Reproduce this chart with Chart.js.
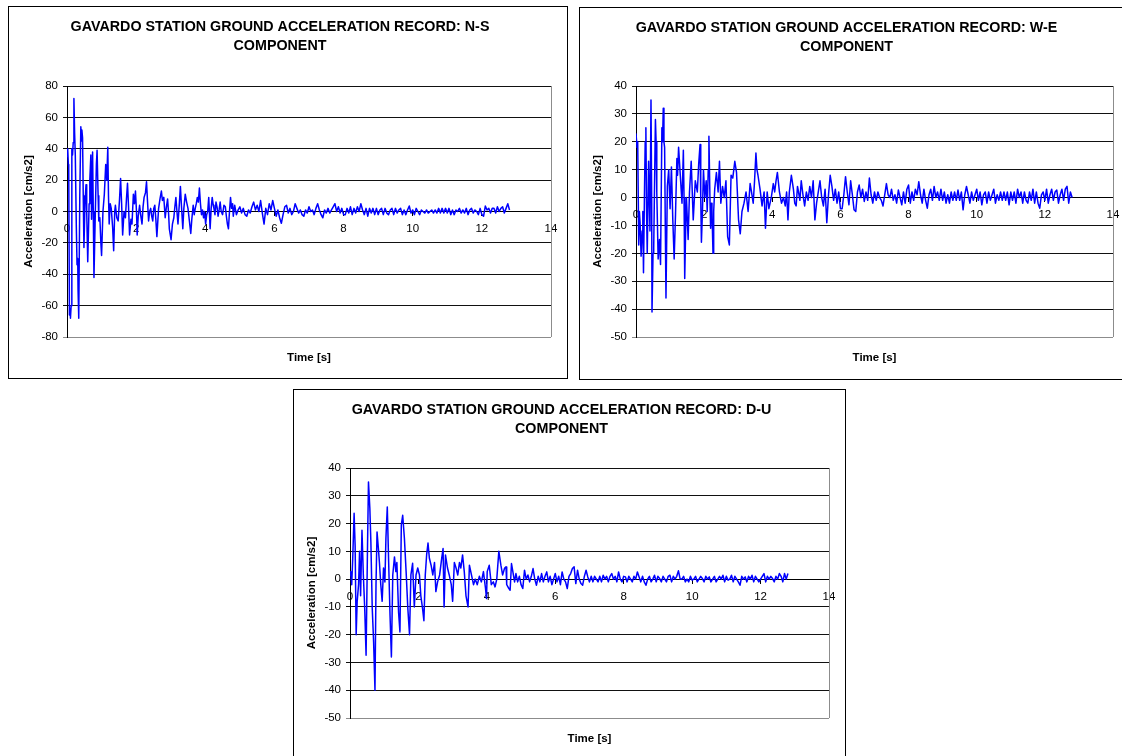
<!DOCTYPE html>
<html><head><meta charset="utf-8">
<script src="https://cdn.jsdelivr.net/npm/chart.js@4.4.0/dist/chart.umd.min.js"></script>
<style>
html,body{margin:0;padding:0;background:#fff;overflow:hidden;width:1122px;height:756px;position:relative}
.box{position:absolute;border:1px solid #000;box-sizing:border-box;background:#fff}
.box canvas{display:block}
</style></head><body>
<div class="box" style="left:8px;top:6px;width:560px;height:373px"><canvas id="c1" width="558" height="371"></canvas></div>
<div class="box" style="left:579px;top:7px;width:551px;height:373px"><canvas id="c2" width="549" height="371"></canvas></div>
<div class="box" style="left:293px;top:389px;width:553px;height:373px"><canvas id="c3" width="551" height="371"></canvas></div>
<script>
const chartTitles = ['GAVARDO STATION GROUND ACCELERATION RECORD: N-S','GAVARDO STATION GROUND ACCELERATION RECORD: W-E','GAVARDO STATION GROUND ACCELERATION RECORD: D-U'];
const titleSecondLine = 'COMPONENT';
const xAxisTitle = 'Time [s]';
const yAxisTitle = 'Acceleration [cm/s2]';
const xTicks = [0,2,4,6,8,10,12,14];
const nsTicks = [-80,-60,-40,-20,0,20,40,60,80];
const weTicks = [-50,-40,-30,-20,-10,0,10,20,30,40];
const duTicks = [-50,-40,-30,-20,-10,0,10,20,30,40];

// N-S component, strong-motion part [time s, acceleration cm/s2]
const nsEarly = [[0,35],[0.02,40],[0.04,30],[0.05,28],[0.07,-66],[0.09,-62],[0.10,-68],[0.12,-60],[0.14,40],[0.16,36],
[0.18,44],[0.20,72],[0.22,50],[0.24,36],[0.27,-10],[0.29,-34],[0.31,-30],[0.32,-50],[0.34,-68],[0.37,10],
[0.40,54],[0.42,45],[0.43,52],[0.45,47],[0.47,10],[0.49,-23],[0.52,5],[0.55,17],[0.57,0],[0.60,-32],
[0.64,5],[0.66,20],[0.69,36],[0.71,-5],[0.74,38],[0.76,0],[0.78,-42],[0.82,0],[0.85,30],[0.87,39],
[0.90,10],[0.92,-6],[0.95,-4],[0.98,-20],[1.00,-28],[1.04,0],[1.08,11],[1.12,30],[1.15,20],[1.18,41],
[1.20,10],[1.22,-8],[1.25,5],[1.28,2],[1.32,-10],[1.35,-25],[1.38,0],[1.40,4],[1.44,-4],[1.48,-6],
[1.52,8],[1.55,21],[1.58,5],[1.61,-15],[1.65,0],[1.69,-4],[1.72,8],[1.75,18],[1.78,3],[1.81,-15],
[1.85,-5],[1.88,-8],[1.92,11],[1.95,5],[1.98,13],[2.01,0],[2.03,-15],[2.06,-3],[2.10,4],[2.13,-2],
[2.17,-8],[2.20,3],[2.23,9],[2.27,12],[2.30,19],[2.33,6],[2.36,-6],[2.39,0],[2.42,2],[2.45,-3],
[2.48,-6],[2.51,2],[2.54,4],[2.57,-5],[2.60,-16],[2.63,-5],[2.65,2],[2.69,8],[2.73,13],[2.76,7],
[2.80,9],[2.84,-4],[2.87,2],[2.91,8],[2.94,-2],[2.96,-11],[3.01,-18],[3.05,-8],[3.09,-4],[3.12,3],
[3.15,9],[3.18,0],[3.21,-8],[3.25,5],[3.28,16],[3.31,4],[3.35,-11],[3.38,2],[3.42,11],[3.46,6],
[3.50,2],[3.54,-6],[3.58,-14],[3.61,-5],[3.65,4],[3.68,-2],[3.71,2],[3.74,5],[3.77,9],[3.80,6],
[3.83,15],[3.86,5],[3.89,-2],[3.92,1],[3.95,-4],[3.98,0],[4.01,-8],[4.04,-2],[4.07,0],[4.10,9],
[4.14,-11],[4.17,2],[4.20,9],[4.23,4],[4.25,2],[4.28,-2],[4.31,6],[4.34,3],[4.37,-3],[4.40,1],
[4.43,6],[4.46,0],[4.50,-2],[4.54,4],[4.58,3],[4.61,-3],[4.64,-8],[4.67,-11],[4.70,0],[4.73,9],
[4.76,2],[4.79,5],[4.81,-3]];

// W-E component, strong-motion part
const weEarly = [[0,23],[0.03,18],[0.05,20],[0.08,-17],[0.10,-5],[0.12,-9],[0.15,-21],[0.18,-12],[0.20,-5],[0.22,-27],
[0.25,3],[0.27,20],[0.29,25],[0.31,-5],[0.33,-20],[0.37,13],[0.41,-12],[0.44,35],[0.46,0],[0.47,-41],
[0.50,-20],[0.52,-18],[0.55,10],[0.57,28],[0.59,20],[0.61,2],[0.65,-22],[0.69,-15],[0.72,-24],[0.76,25],
[0.78,20],[0.80,32],[0.82,20],[0.84,18],[0.86,-10],[0.88,-36],[0.92,4],[0.96,10],[1.00,-4],[1.04,11],
[1.08,-8],[1.12,-22],[1.16,-6],[1.20,14],[1.22,8],[1.25,18],[1.30,8],[1.35,-2],[1.39,17],[1.41,0],
[1.43,-29],[1.46,-10],[1.48,0],[1.53,-15],[1.57,2],[1.62,13],[1.68,-8],[1.74,6],[1.80,2],[1.84,12],
[1.88,19],[1.90,0],[1.92,-16],[1.95,-5],[1.98,10],[2.02,0],[2.06,6],[2.09,-5],[2.12,10],[2.14,22],
[2.17,0],[2.19,-11],[2.21,-2],[2.23,-5],[2.26,-20],[2.28,-5],[2.31,3],[2.36,9],[2.41,2],[2.45,13],
[2.49,-2],[2.54,4],[2.59,0],[2.64,6],[2.69,-14],[2.74,-17],[2.79,8],[2.84,7],[2.90,13],[2.95,9],
[3.01,-8],[3.06,-13],[3.11,-5],[3.17,-2],[3.23,2],[3.29,-5],[3.35,5],[3.39,2],[3.44,-2],[3.48,6],
[3.52,16],[3.55,10],[3.58,8],[3.64,3],[3.70,-3],[3.76,2],[3.80,-11],[3.85,2],[3.90,-4],[3.97,0],
[4.03,5],[4.07,2],[4.11,6],[4.15,9],[4.21,2],[4.27,-2],[4.33,0],[4.38,-3],[4.42,2],[4.46,-8],
[4.50,2],[4.56,8],[4.62,3],[4.66,-2],[4.70,-3],[4.74,4],[4.77,2],[4.81,-1]];

// D-U component, strong-motion part
const duEarly = [[0,1.5],[0.02,2.7],[0.05,-2],[0.08,7.5],[0.12,23.7],[0.15,12],[0.18,-20],[0.21,-8],[0.25,-2],[0.28,10],
[0.31,-6],[0.35,17.6],[0.39,1.5],[0.43,-10.5],[0.47,-27.4],[0.51,10],[0.54,35],[0.58,25.5],[0.61,13.5],[0.65,-10.5],
[0.69,-22.5],[0.73,-40],[0.76,-2],[0.79,17],[0.83,11],[0.86,6],[0.90,-2],[0.94,-8],[0.98,4],[1.02,-1],
[1.05,14.7],[1.09,26],[1.13,6],[1.17,-13],[1.21,-28],[1.25,1.5],[1.30,8],[1.34,2.7],[1.37,6],[1.42,-12],
[1.46,-19],[1.50,19.5],[1.54,23],[1.59,14.7],[1.64,2.7],[1.69,-10.5],[1.74,-20],[1.78,1.5],[1.83,5.7],[1.88,-10],
[1.93,1.5],[1.98,4],[2.03,1.5],[2.07,-6],[2.12,-10.5],[2.16,-15],[2.20,1.5],[2.24,8.7],[2.28,13],[2.32,7.5],
[2.37,5],[2.42,1.5],[2.47,6],[2.51,-4.5],[2.56,-1],[2.62,1.5],[2.68,7.5],[2.72,11],[2.75,-10],[2.79,8.7],
[2.85,4],[2.90,1.5],[2.96,-2],[3.00,-8],[3.05,6],[3.10,4],[3.15,1.5],[3.20,6],[3.24,4],[3.29,8.7],
[3.34,2.7],[3.39,-6],[3.45,-10],[3.49,5],[3.55,1.5],[3.61,-2],[3.66,0],[3.72,-2],[3.78,1],[3.84,-1],
[3.90,2.7],[3.96,-3.3],[3.99,-7],[4.01,2.7],[4.07,5],[4.13,-2],[4.19,-1],[4.24,-2.8],[4.29,0],[4.35,10],
[4.41,5],[4.46,1.5],[4.52,4],[4.56,4.4],[4.58,-2],[4.64,-3.3],[4.68,-4],[4.72,5.6],[4.76,2.7],[4.81,-1]];

// coda part: common time base [s]
const codaTime = [4.85,4.90,4.95,5.00,5.05,5.10,5.15,5.20,5.25,5.30,
5.35,5.40,5.45,5.50,5.55,5.60,5.65,5.70,5.75,5.80,
5.85,5.90,5.95,6.00,6.05,6.10,6.15,6.20,6.25,6.30,
6.35,6.40,6.45,6.50,6.55,6.60,6.65,6.70,6.75,6.80,
6.85,6.90,6.95,7.00,7.05,7.10,7.15,7.20,7.25,7.30,
7.35,7.40,7.45,7.50,7.55,7.60,7.65,7.70,7.75,7.80,
7.85,7.90,7.95,8.00,8.05,8.10,8.15,8.20,8.25,8.30,
8.35,8.40,8.45,8.50,8.55,8.60,8.65,8.70,8.75,8.80,
8.85,8.90,8.95,9.00,9.05,9.10,9.15,9.20,9.25,9.30,
9.35,9.40,9.45,9.50,9.55,9.60,9.65,9.70,9.75,9.80,
9.85,9.90,9.95,10.00,10.05,10.10,10.15,10.20,10.25,10.30,
10.35,10.40,10.45,10.50,10.55,10.60,10.65,10.70,10.75,10.80,
10.85,10.90,10.95,11.00,11.05,11.10,11.15,11.20,11.25,11.30,
11.35,11.40,11.45,11.50,11.55,11.60,11.65,11.70,11.75,11.80,
11.85,11.90,11.95,12.00,12.05,12.10,12.15,12.20,12.25,12.30,
12.35,12.40,12.45,12.50,12.55,12.60,12.65,12.70,12.75,12.80];

const nsCoda = [4,-2,1,3,-1,2,-2,-3,1,-1,
3,6,1,4,0,7,-1,-8,2,-2,
5,1,7,2,-3,1,-4,-7.5,-2,3,
4,-1,2,-2,0,5,2,-1,1,-2,
-3,1,-1,3,0,1,-2,2,5,1,
-2,-4,1,-1,2,-1,1,3,5,0,
3,-1,2,-2,-2,2,-1,3,-2,2,
-1,3,0,5,1,-2,2,-3,2,-1,
2,-2,2,-2,1,2,-2,2,-1,-2,
1,2,-2,2,-1,1,2,-2,1,-2,
1,3.5,-1,1,-2,2,0,-2,1,0,
-1,1,-1,0,1,-1,1,-1,2,-1,
2,-1,2,-1,2,-2,1,-2,1,0,
2,-1,1,-1,2,-2,1,2,-1,1,
0,-2,2,-2,-3,3.5,1,2,-1,2,
2,-1,3,0,2,3,-1,2,5,1];

const weCoda = [6,1,-3,2,-1,4,0,6,-8,-2,
2,6,0,-3,3,-9,1,8,4,-1,
3,-2,2,-4,-4,1,7.5,2,-2.6,6,
1,-4.4,-5,2,4.5,0,3,-1.4,2,-1,
7,1,-2,2,-1,2,0,-1,-3,1,
5,1,0,3,-1,1,-2,2.7,0,-2.6,
2,-2,3,4.5,-2,2,-1,3,1,5.7,
1,-2,3,-1,-3.8,1,3,-1,4,0,
2,-1,3,-1,2,-2,1,-2,2,-1,
2,-1,2.7,-1,2,-4.4,1,4,1,-2,
2,-1,1,3,-1,2,-2.6,1,2,-2,
2,-1,1,3,-2,1,-1,2,-1,2,
-1,2,-2.6,2,-1,2,-2,3,0,2,
-2,2,-1,-2,2,-1,3,-2,2,-2,
-3.8,1,2,-1,3,-2,1,3,-1,2,
2.7,-2,1,3,-1,3,4,-2,2,0];

const duCoda = [2,-1,1,-2,-3.4,3.2,0,1.5,-1,1,
3.8,0,-2.2,1,-1,2,-1,1,2.6,-1,
1,-2,0,2,-1,1,-2,2.6,0,-1,
-3.4,1,2,3.8,4.4,-1.6,3.2,0,-1.6,-2.2,
1,3.2,0.8,-1,1,-1,1,0,-1,1,
-1,1.4,0,1,-1,1,2,0,1,-1,
2.6,0,-1,1,0.8,-1,1,0,-1,1,
0,2.6,0.8,-1,1,-1,-2.2,0,1,-1,
0,1.4,-1,1,0.2,-1,1,0,-1,1,
1.4,-1,1,0,1,3,0,0,1,-1,
0,-1,1,-0.4,0,1,-1,0,1,0.2,
-1,1,0,0.8,-1,0,1,-1,0,1,
0,1.4,-1,1,-0.4,0,1.4,-1,1,0,
-1,-2.2,1,0,0.8,-1,1,0,1.4,-1,
1,0,-1,0,1,2,-1,1,0,1,
0.2,-1,1,0,2,1,-1,2,0,2];

Chart.defaults.font.family = '"Liberation Sans", Arial, sans-serif';
Chart.defaults.color = '#000';

function series(early, coda) {
  return early.map(p => ({x: p[0], y: p[1]}))
    .concat(codaTime.map((t, i) => ({x: t, y: coda[i]})));
}

const plotFrame = {
  id: 'plotFrame',
  beforeDatasetsDraw(chart) {
    const a = chart.chartArea, ctx = chart.ctx;
    const x = Math.round(a.right - 0.5) + 0.5;
    ctx.save();
    ctx.strokeStyle = '#8c8c8c';
    ctx.lineWidth = 1;
    ctx.beginPath();
    ctx.moveTo(x, a.top);
    ctx.lineTo(x, a.bottom);
    ctx.stroke();
    ctx.restore();
  }
};

function makeChart(id, title, ticks, points, lay) {
  const yMin = ticks[0], yMax = ticks[ticks.length - 1];
  return new Chart(document.getElementById(id), {
    type: 'line',
    data: { datasets: [{ data: points, borderColor: '#0000ff', borderWidth: 1.5, pointRadius: 0, fill: false, tension: 0, borderJoinStyle: 'round' }] },
    options: {
      responsive: false, animation: false, events: [],
      layout: { padding: { left: 0, top: 0, right: lay.right, bottom: 0 } },
      plugins: {
        legend: { display: false }, tooltip: { enabled: false },
        title: { display: true, text: [title, titleSecondLine], color: '#000',
          font: { size: 14.3, weight: 'bold', lineHeight: 1.343 },
          padding: { top: 10.4, bottom: lay.titleBottom } },
        subtitle: { display: true, position: 'bottom', fullSize: false, text: xAxisTitle, color: '#000',
          font: { size: 11.5, weight: 'bold', lineHeight: 1.2 },
          padding: { top: 14, bottom: lay.subBottom } }
      },
      scales: {
        x: { type: 'linear', min: xTicks[0], max: xTicks[xTicks.length - 1], position: { y: 0 },
          ticks: { stepSize: xTicks[1] - xTicks[0], font: { size: 11.5 }, color: '#000', padding: 6.5, maxRotation: 0 },
          grid: { drawOnChartArea: false, drawTicks: true, tickLength: 4, color: '#000' },
          border: { display: true, color: '#000', width: 1 },
          afterFit(s) { s.paddingLeft = 0; s.paddingRight = 0; } },
        y: { type: 'linear', min: yMin, max: yMax, position: 'left',
          ticks: { stepSize: ticks[1] - ticks[0], font: { size: 11.5 }, color: '#000', padding: 5 },
          grid: { drawTicks: true, tickLength: 4, lineWidth: 1,
            color: c => (c.tick && c.tick.value === yMin) ? '#8c8c8c' : '#111' },
          border: { display: true, color: '#000', width: 1 },
          title: { display: true, text: yAxisTitle, color: '#000', font: { size: 11.5, weight: 'bold', lineHeight: 1.2 }, padding: { top: lay.yTitlePad, bottom: 0 } },
          afterFit(s) { s.width = lay.yWidth; } }
      }
    },
    plugins: [plotFrame]
  });
}

makeChart('c1', chartTitles[0], nsTicks, series(nsEarly, nsCoda), { right: 16, titleBottom: 30.2, subBottom: 13.2, yWidth: 58, yTitlePad: 13 });
makeChart('c2', chartTitles[1], weTicks, series(weEarly, weCoda), { right: 16, titleBottom: 29.2, subBottom: 14.2, yWidth: 56, yTitlePad: 11.4 });
makeChart('c3', chartTitles[2], duTicks, series(duEarly, duCoda), { right: 16, titleBottom: 29.2, subBottom: 15.2, yWidth: 56, yTitlePad: 11.4 });
</script>
</body></html>
